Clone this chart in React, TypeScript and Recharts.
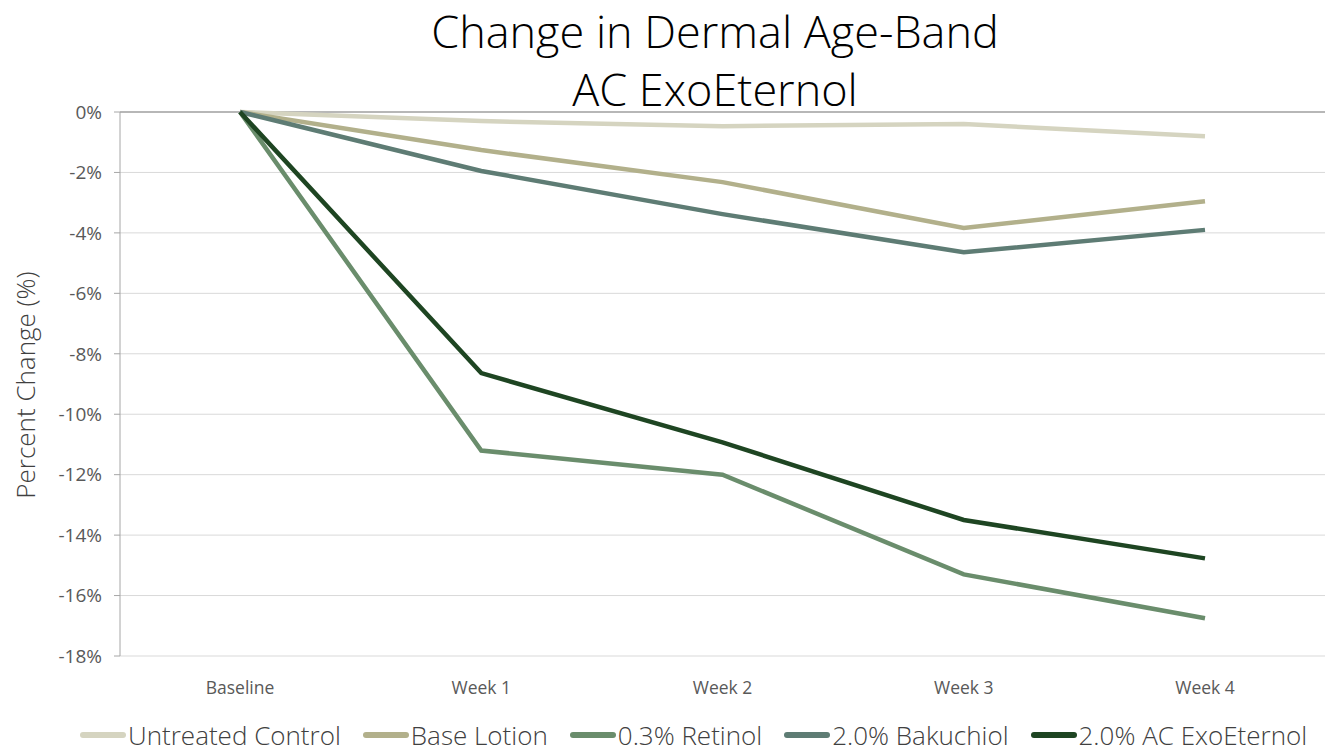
import React from 'react';
import { LineChart, Line, XAxis, YAxis, CartesianGrid, ReferenceLine } from 'recharts';

const weeks = ['Baseline', 'Week 1', 'Week 2', 'Week 3', 'Week 4'];

const untreatedControl = [0, -0.3, -0.47, -0.4, -0.8];
const baseLotion = [0, -1.26, -2.32, -3.84, -2.95];
const retinol = [0, -11.2, -12.0, -15.3, -16.75];
const bakuchiol = [0, -1.95, -3.38, -4.64, -3.9];
const acExoEternol = [0, -8.64, -10.93, -13.5, -14.77];

const yTicks = [0, -2, -4, -6, -8, -10, -12, -14, -16, -18];

const seriesList = [
    { key: 'untreated', name: 'Untreated Control', values: untreatedControl, color: '#d5d4c0' },
    { key: 'base', name: 'Base Lotion', values: baseLotion, color: '#b2b08b' },
    { key: 'retinol', name: '0.3% Retinol', values: retinol, color: '#6a8d6c' },
    { key: 'bakuchiol', name: '2.0% Bakuchiol', values: bakuchiol, color: '#5e7c74' },
    { key: 'ac', name: '2.0% AC ExoEternol', values: acExoEternol, color: '#1e4522' },
];

const chartData = weeks.map((week, i) => {
    const row: Record<string, string | number> = { week };
    seriesList.forEach(s => { row[s.key] = s.values[i]; });
    return row;
});

const font = '"Open Sans", "Noto Sans", sans-serif';

const App = () => {
    return (
        <div style={{ position: 'absolute', left: 0, top: 0, width: 1335, height: 755, background: '#fff', fontFamily: font }}>
            {/* title */}
            <div style={{ position: 'absolute', left: 95, width: 1240, top: 2, textAlign: 'center', fontSize: 45, fontWeight: 300, color: '#000', lineHeight: '58px' }}>
                Change in Dermal Age-Band<br />AC ExoEternol
            </div>
            {/* y axis title */}
            <div style={{ position: 'absolute', left: 25, top: 385, transform: 'translate(-50%, -50%) rotate(-90deg)', whiteSpace: 'nowrap', fontSize: 26, fontWeight: 300, color: '#404040' }}>
                Percent Change (%)
            </div>
            <LineChart width={1335} height={755} data={chartData} margin={{ top: 112, right: 10, bottom: 59, left: 0 }}>
                <CartesianGrid vertical={false} stroke="#d9d9d9" strokeWidth={1} />
                <XAxis
                    dataKey="week"
                    axisLine={false}
                    tickLine={false}
                    padding={{ left: 120, right: 120 }}
                    tick={{ fill: '#595959', fontSize: 17.5, fontFamily: font }}
                    dy={18}
                    height={40}
                />
                <YAxis
                    domain={[-18, 0]}
                    ticks={yTicks}
                    interval={0}
                    width={120}
                    tickFormatter={(v: number) => `${v}%`}
                    tick={{ fill: '#595959', fontSize: 19, fontFamily: font, dx: -10 }}
                    axisLine={{ stroke: '#a6a6a6' }}
                    tickLine={{ stroke: '#a6a6a6' }}
                    tickSize={6}
                />
                <ReferenceLine y={0} stroke="#a6a6a6" strokeWidth={1.5} />
                {seriesList.map(s => (
                    <Line
                        key={s.key}
                        type="linear"
                        dataKey={s.key}
                        name={s.name}
                        stroke={s.color}
                        strokeWidth={4.5}
                        dot={false}
                        isAnimationActive={false}
                    />
                ))}
            </LineChart>
            {/* legend */}
            <div style={{ position: 'absolute', left: 80, top: 720, display: 'flex', gap: 22, fontSize: 26, lineHeight: '30px', fontWeight: 300, color: '#404040', whiteSpace: 'nowrap' }}>
                {seriesList.map(s => (
                    <div key={s.key} style={{ display: 'flex', alignItems: 'center' }}>
                        <span style={{ display: 'inline-block', width: 46, height: 6, borderRadius: 3, background: s.color, marginRight: 2 }} />
                        <span>{s.name}</span>
                    </div>
                ))}
            </div>
        </div>
    );
};

export default App;
